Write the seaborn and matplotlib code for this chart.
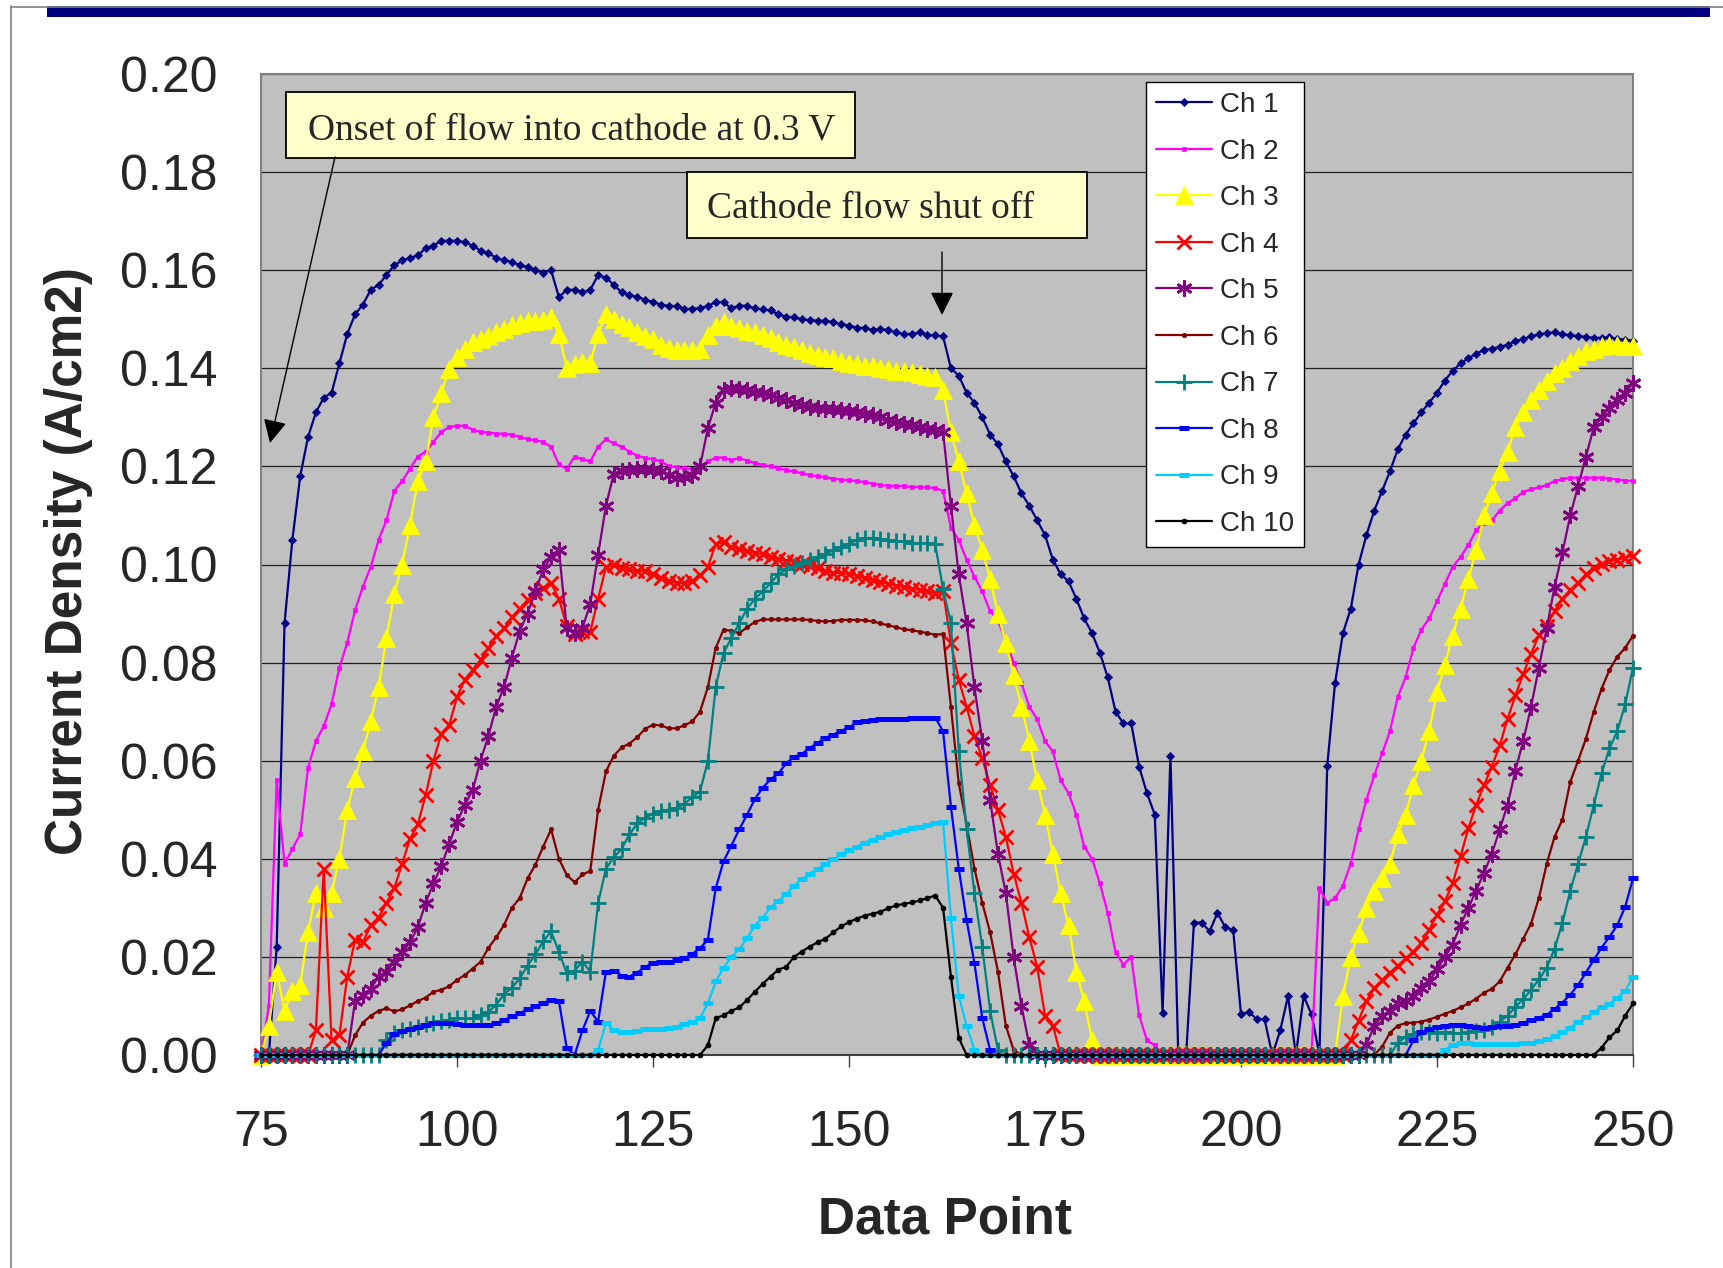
import numpy as np
import pandas as pd
import matplotlib
matplotlib.use("Agg")
import matplotlib.pyplot as plt
import seaborn as sns
from matplotlib.patches import Rectangle
from matplotlib.lines import Line2D

# ---------------- data (current density in mA/cm2, one value per data point) ----------
DATA_POINTS = list(range(75, 251))

CH1 = [0, 0, 22, 88, 105, 118, 126, 131, 134, 135,
       141, 147, 151, 153, 156, 157, 159, 161, 162, 162.5,
       163, 164.5, 165, 166, 166, 166, 165.7, 165, 164, 163.5,
       162.5, 162, 161.7, 161, 160.7, 160, 159.5, 160, 154.5, 156,
       156, 155.5, 156, 159, 158.5, 157, 155.5, 155, 154.5, 154,
       153.5, 153, 152.7, 152.7, 152.1, 152.1, 152.3, 152.7, 153.5, 153.5,
       152.2, 152.8, 152.7, 152.2, 152, 151.8, 151, 150.5, 150.4, 150,
       149.8, 149.7, 149.7, 149.4, 149, 148.7, 148.3, 148.2, 147.8, 148,
       147.8, 147.3, 147, 147, 147.3, 146.8, 146.7, 146.5, 140, 138.5,
       135, 133, 130, 126.5, 124.5, 121, 118, 114.5, 112, 109,
       106, 101, 98, 96.6, 93, 89, 86, 82, 77, 70,
       67.6, 67.6, 58.8, 53.4, 49, 8.5, 61, 0, 0, 27,
       27, 25.2, 29, 26, 25.5, 8.3, 8.8, 7.3, 7.3, 0,
       5, 12, 0, 12, 8.3, 0, 59, 75.9, 86, 91,
       100, 106, 111, 115, 119, 123.5, 126.5, 128.8, 131, 133,
       135, 137.5, 139.5, 141, 142, 143, 143.7, 144, 144.4, 144.8,
       145.5, 146, 146.5, 146.9, 147.2, 147.3, 147, 146.7, 146.6, 146.4,
       146.2, 146.2, 146.3, 146, 145.8, 145.6]

CH2 = [0, 10, 56, 39, 42, 45, 58.5, 64, 67, 71.5,
       79, 84, 90.7, 95.5, 99.5, 105, 109, 115, 117, 119.5,
       122, 123, 125, 127, 128, 128.3, 128.3, 127.5, 127, 126.9,
       126.7, 126.6, 126.5, 126, 125.6, 125.3, 125, 124, 120.4, 119.5,
       122, 121.5, 121, 124, 125.5, 124.7, 124, 123, 122.2, 121.7,
       121.5, 121, 120.1, 119.8, 119.6, 119.4, 120, 121, 121.8, 121.8,
       121.3, 121.7, 121.2, 120.7, 120.3, 120, 119.6, 119.2, 119, 118.6,
       118.2, 118, 117.8, 117.5, 117.3, 117.2, 117, 116.8, 116.5, 116.2,
       116.1, 116, 116, 115.8, 115.8, 115.7, 115.6, 115, 107.5, 105,
       101, 97.5, 94.5, 90.5, 88.5, 84.5, 80, 75.8, 71, 68.5,
       64, 61.9, 56, 53.4, 49, 42.5, 40, 35, 29, 21,
       18.4, 20, 8.2, 3, 2, 0, 0, 0, 0, 0,
       0, 0, 0, 0, 0, 0, 0, 0, 0, 0,
       0, 0, 0, 0, 0, 34, 31, 32, 34.5, 39,
       46, 52, 57, 61.5, 66, 73, 77, 83, 86.7, 89,
       92.5, 96, 99.5, 101.5, 104, 107, 108.5, 109, 111, 112.5,
       113.5, 114.8, 115.3, 115.7, 116.2, 117, 117.4, 117.7, 117.7, 117.7,
       117.7, 117.7, 117.5, 117.3, 117.1, 117]

CH3 = [0, 6, 17, 9, 13, 14.3, 25, 33, 30, 33,
       40, 50, 56.5, 62, 68, 75, 85, 94, 100, 108,
       117, 121, 130, 135, 139.8, 142.4, 144, 145.3, 146, 146.5,
       147.3, 148, 148.8, 149.2, 149.7, 149.7, 149.8, 150.5, 147, 140,
       140.8, 141.3, 141.1, 147, 151, 150, 149, 148.5, 147.5, 146.5,
       146, 144.8, 144.1, 143.8, 143.8, 143.8, 144, 146.8, 148.6, 149.5,
       148.6, 148.2, 147.7, 147.3, 146.8, 146.2, 145.4, 144.8, 144.3, 143.7,
       143.1, 142.7, 142.3, 142, 141.4, 141, 140.9, 140.5, 140.4, 140.1,
       139.8, 139.5, 139.4, 139.2, 138.9, 138.5, 138.2, 135.5, 127, 121,
       114.5, 108, 103, 97, 90, 84, 77.5, 71, 64, 56,
       49, 41, 33, 26.5, 17, 11, 3, 0, 0, 0,
       0, 0, 0, 0, 0, 0, 0, 0, 0, 0,
       0, 0, 0, 0, 0, 0, 0, 0, 0, 0,
       0, 0, 0, 0, 0, 0, 0, 0, 12, 20,
       24.8, 30, 33.5, 36, 39, 45, 49, 55, 60, 66,
       74, 79.5, 85.5, 91, 97, 103, 110, 114.5, 119, 123,
       128, 131, 133.5, 135.5, 137.5, 139, 140, 141.5, 142.5, 143.5,
       144, 144.5, 144.7, 144.7, 144.6, 144.5]

CH4 = [0, 0, 0, 0, 0, 0, 0, 5, 38, 3,
       4, 16, 23.5, 23, 26.5, 28, 31, 34, 39, 44,
       47, 53, 60, 65.5, 67.2, 73, 76.5, 78.5, 80.5, 83,
       85.5, 87, 89.3, 91, 92.8, 94.2, 95.3, 96.2, 93, 87.5,
       85.8, 86.5, 86.3, 93, 99.5, 99.9, 99.3, 99, 98.6, 98.6,
       98, 97.2, 96.6, 96.3, 96.2, 96.6, 97.8, 99.5, 104.2, 104.5,
       103.5, 103.1, 102.7, 102.4, 102.1, 101.6, 101.1, 100.8, 100.5, 100.1,
       99.6, 99.2, 98.6, 98.3, 98.3, 98, 97.7, 97.3, 96.8, 96.4,
       96.1, 95.7, 95.4, 95.1, 94.8, 94.5, 94.2, 94.5, 84, 76.5,
       71, 65, 60.5, 55, 50, 44.5, 37, 31, 24, 18,
       8, 6, 0, 0, 0, 0, 0, 0, 0, 0,
       0, 0, 0, 0, 0, 0, 0, 0, 0, 0,
       0, 0, 0, 0, 0, 0, 0, 0, 0, 0,
       0, 0, 0, 0, 0, 0, 0, 0, 0, 3,
       7, 11, 13.7, 15.3, 16.8, 18.2, 19.7, 21, 22.8, 25.5,
       28.6, 31.3, 35, 40.5, 46.2, 51, 55, 58.8, 63.1, 68.5,
       73.3, 77.7, 81.8, 85.6, 87.5, 90.5, 93, 94.8, 96.3, 98,
       99.2, 100.2, 100.7, 101, 101.4, 101.8]

CH5 = [0, 0, 0, 0, 0, 0, 0, 0, 0, 0,
       0, 0, 11, 12.2, 13.5, 16, 17, 19, 21, 23,
       26, 31, 35, 38.5, 43, 47.5, 51, 54, 60, 65,
       71, 75, 81, 86.5, 90, 94.5, 99, 101.5, 103, 87,
       86, 87, 92, 102, 112, 118.5, 119, 119.3, 119.5, 119.5,
       119.3, 119, 118.2, 117.6, 117.8, 118.3, 120, 127.8, 133, 135.5,
       136, 135.8, 135.5, 135.2, 135, 134.5, 134, 133.5, 133, 132.6,
       132.2, 132, 131.8, 131.7, 131.5, 131.3, 131, 130.7, 130.4, 130,
       129.5, 129, 128.7, 128.4, 128, 127.7, 127.4, 127, 112, 98,
       88, 75, 64, 52, 41, 33, 20, 10, 2, 0,
       0, 0, 0, 0, 0, 0, 0, 0, 0, 0,
       0, 0, 0, 0, 0, 0, 0, 0, 0, 0,
       0, 0, 0, 0, 0, 0, 0, 0, 0, 0,
       0, 0, 0, 0, 0, 0, 0, 0, 0, 0,
       0, 2, 6, 8, 9, 10.5, 11, 12, 13.7, 15,
       17.5, 20, 22.5, 26.5, 30, 33.5, 37.2, 41, 46, 51,
       58, 64, 71, 79, 87, 95.5, 102.5, 110, 116, 122,
       128, 130, 132, 133.6, 135, 137]

CH6 = [0, 0, 0, 0, 0, 0, 0, 0, 0, 0,
       0, 0, 4, 6.6, 8, 9, 9.5, 8.9, 9.3, 10.1,
       11, 11.7, 12.9, 13.3, 14, 15.3, 16.3, 17.6, 19, 21.8,
       24, 26.5, 30, 32, 36, 38.8, 42.5, 46, 40, 36.7,
       35.2, 36.8, 37.5, 50, 57.8, 61, 62.7, 63.5, 64.8, 66.5,
       67.3, 67.2, 66.6, 66.6, 67.2, 68, 70, 75, 83, 86.7,
       86.5, 86, 87.2, 88.3, 88.8, 88.8, 88.8, 88.8, 88.8, 88.8,
       88.7, 88.5, 88.4, 88.5, 88.7, 88.7, 88.7, 88.6, 88.4, 88,
       87.6, 87.2, 86.8, 86.6, 86.3, 86, 85.7, 85.8, 71, 55.4,
       47, 38, 31, 25, 17, 6, 1, 0, 0, 0,
       0, 0, 0, 0, 0, 0, 0, 0, 0, 0,
       0, 0, 0, 0, 0, 0, 0, 0, 0, 0,
       0, 0, 0, 0, 0, 0, 0, 0, 0, 0,
       0, 0, 0, 0, 0, 0, 0, 0, 0, 0,
       0, 0, 0, 1.7, 4.5, 6, 6.5, 6.6, 6.8, 7.2,
       7.8, 8.4, 9, 9.7, 10.5, 11.5, 12.7, 13.5, 15, 17.8,
       20.5, 23.7, 26.8, 32, 39, 44.5, 48, 55.7, 60, 64.5,
       70, 74.7, 78.5, 81.2, 83, 85.5]

CH7 = [0, 0, 0, 0, 0, 0, 0, 0, 0, 0,
       0, 0, 0, 0, 0, 0, 3, 4.5, 5, 5.2,
       5.7, 6.3, 6.6, 6.9, 7.2, 7.5, 7.5, 7.5, 8.1, 8.8,
       10.2, 12.4, 13.7, 15.6, 18.2, 20.5, 23.2, 25.2, 21, 16.7,
       17.2, 19, 17, 31, 38, 40.3, 42, 45, 47.2, 48.4,
       49.2, 49.7, 50, 50.4, 51.2, 52.5, 53.7, 60, 75, 82,
       85, 88, 91, 93, 94.5, 96.2, 98, 99, 99.6, 100.4,
       101, 101.5, 102.2, 102.9, 103.5, 104.2, 105, 105.4, 105.4, 105.2,
       104.9, 104.7, 104.7, 104.4, 104.3, 104.3, 104.1, 95, 88.1, 62,
       46, 33, 22, 9, 1, 0, 0, 0, 0, 0,
       0, 0, 0, 0, 0, 0, 0, 0, 0, 0,
       0, 0, 0, 0, 0, 0, 0, 0, 0, 0,
       0, 0, 0, 0, 0, 0, 0, 0, 0, 0,
       0, 0, 0, 0, 0, 0, 0, 0, 0, 0,
       0, 0, 0, 0, 0, 2.5, 3.7, 4.3, 4.6, 4.6,
       4.5, 4.7, 4.5, 4.4, 4.6, 4.9, 5.1, 5.8, 6.8, 8,
       9.8, 11.4, 13.3, 15.4, 17.8, 21.7, 27, 33.5, 39, 44.5,
       51, 57.5, 62.5, 66, 71.5, 79]

CH8 = [0, 0, 0, 0, 0, 0, 0, 0, 0, 0,
       0, 0, 0, 0, 0, 0, 2.5, 4.2, 4.8, 5.3,
       5.8, 6.2, 6.5, 6.6, 6.6, 6.4, 6.2, 6.1, 6.1, 6.2,
       6.5, 7.1, 7.9, 8.5, 9.3, 9.9, 10.6, 11.3, 11, 1.4,
       0, 5, 9, 6.8, 17, 17.2, 16.2, 16, 16.8, 18,
       18.7, 19, 19, 19.3, 19.7, 20.6, 21.8, 23.5, 34, 39.5,
       42.7, 46, 49, 52.2, 54.5, 56.2, 57.4, 59.5, 60.7, 61.4,
       62.6, 63.6, 64.7, 65.3, 66.1, 66.8, 67.8, 68, 68.3, 68.4,
       68.5, 68.6, 68.6, 68.7, 68.7, 68.8, 68.8, 66, 50.6, 38,
       27.5, 18.7, 7.5, 1, 0, 0, 0, 0, 0, 0,
       0, 0, 0, 0, 0, 0, 0, 0, 0, 0,
       0, 0, 0, 0, 0, 0, 0, 0, 0, 0,
       0, 0, 0, 0, 0, 0, 0, 0, 0, 0,
       0, 0, 0, 0, 0, 0, 0, 0, 0, 0,
       0, 0, 0, 0, 0, 0, 0, 3, 4.6, 5.3,
       5.8, 6, 6.1, 6.1, 6, 5.8, 5.6, 5.7, 5.9, 6,
       6.2, 6.6, 7.1, 7.6, 8.2, 9.4, 10.7, 12.3, 14.3, 16.8,
       19.4, 21.9, 24.1, 26.5, 30.2, 36]

CH9 = [0, 0, 0, 0, 0, 0, 0, 0, 0, 0,
       0, 0, 0, 0, 0, 0, 0, 0, 0, 0,
       0, 0, 0, 0, 0, 0, 0, 0, 0, 0,
       0, 0, 0, 0, 0, 0, 0, 0, 0, 0,
       0, 0, 0, 1, 6.5, 5, 4.7, 4.6, 4.9, 5.2,
       5.3, 5.4, 5.6, 5.8, 6.4, 6.7, 7.5, 10.5, 15, 17.7,
       20, 21.6, 23.8, 26.4, 28, 30.1, 31.4, 32.8, 34.5, 35.9,
       37, 37.9, 38.9, 39.9, 40.9, 41.7, 42.5, 43.3, 43.9, 44.5,
       45.1, 45.5, 45.8, 46.2, 46.5, 46.8, 47.2, 47.5, 28, 12,
       6, 1, 0, 0, 0, 0, 0, 0, 0, 0,
       0, 0, 0, 0, 0, 0, 0, 0, 0, 0,
       0, 0, 0, 0, 0, 0, 0, 0, 0, 0,
       0, 0, 0, 0, 0, 0, 0, 0, 0, 0,
       0, 0, 0, 0, 0, 0, 0, 0, 0, 0,
       0, 0, 0, 0, 0, 0, 0, 0, 0, 0,
       0, 1, 2, 2.4, 2.4, 2.3, 2.2, 2.2, 2.2, 2.2,
       2.3, 2.4, 2.5, 2.8, 3.2, 3.9, 4.6, 5.6, 6.7, 7.7,
       8.7, 9.7, 10.4, 11.6, 13, 16]

CH10 = [0, 0, 0, 0, 0, 0, 0, 0, 0, 0,
        0, 0, 0, 0, 0, 0, 0, 0, 0, 0,
        0, 0, 0, 0, 0, 0, 0, 0, 0, 0,
        0, 0, 0, 0, 0, 0, 0, 0, 0, 0,
        0, 0, 0, 0, 0, 0, 0, 0, 0, 0,
        0, 0, 0, 0, 0, 0, 0, 2, 7.5, 8.1,
        9, 9.7, 11.2, 12.9, 14.5, 16, 17.4, 18, 20, 21.1,
        22.1, 23, 23.7, 25, 26.2, 27.1, 27.8, 28.4, 28.8, 29.2,
        29.9, 30.5, 30.8, 31.1, 31.5, 32, 32.5, 30, 16, 3.5,
        0, 0, 0, 0, 0, 0, 0, 0, 0, 0,
        0, 0, 0, 0, 0, 0, 0, 0, 0, 0,
        0, 0, 0, 0, 0, 0, 0, 0, 0, 0,
        0, 0, 0, 0, 0, 0, 0, 0, 0, 0,
        0, 0, 0, 0, 0, 0, 0, 0, 0, 0,
        0, 0, 0, 0, 0, 0, 0, 0, 0, 0,
        0, 0, 0, 0, 0, 0, 0, 0, 0, 0,
        0, 0, 0, 0, 0, 0, 0, 0, 0, 0,
        0, 1.5, 3.6, 5, 8, 10.5]

CHANNELS = ["Ch 1", "Ch 2", "Ch 3", "Ch 4", "Ch 5",
            "Ch 6", "Ch 7", "Ch 8", "Ch 9", "Ch 10"]
SERIES = [CH1, CH2, CH3, CH4, CH5, CH6, CH7, CH8, CH9, CH10]
X_TICKS = [75, 100, 125, 150, 175, 200, 225, 250]
Y_TICKS = [0.00, 0.02, 0.04, 0.06, 0.08, 0.10, 0.12, 0.14, 0.16, 0.18, 0.20]

for name, s in zip(CHANNELS, SERIES):
    if len(s) != len(DATA_POINTS):
        raise ValueError(f"{name}: {len(s)} values")

# ---------------- layout ----------------
W, H = 1724, 1268
L, R, T, B = 261, 1633, 74, 1055

sns.set_style("white")
plt.rcParams['font.family'] = ['Liberation Sans', 'DejaVu Sans']

fig = plt.figure(figsize=(W / 100, H / 100), dpi=100)
fig.patch.set_facecolor('white')

# page decorations (slide frame and top bar)
deco = fig.add_axes([0, 0, 1, 1], zorder=-5)
deco.set_xlim(0, W)
deco.set_ylim(H, 0)
deco.axis('off')
deco.add_line(Line2D([11, 11], [6, H], color='#808080', lw=1.2))
deco.add_line(Line2D([11, W], [6.5, 6.5], color='#808080', lw=1.2))
deco.add_patch(Rectangle((47, 5.5), 1663, 11.5, facecolor='#000080', edgecolor='none'))

ax = fig.add_axes([L / W, 1 - B / H, (R - L) / W, (B - T) / H])
ax.set_facecolor('#C0C0C0')

STYLES = [
    dict(color='#000080', marker='D', ms=3.8, mew=0.6),
    dict(color='#FF00FF', marker='s', ms=3.4, mew=0.5),
    dict(color='#FFFF00', marker='^', ms=12.5, mew=0.5),
    dict(color='#FF0000', marker='x', ms=10.5, mew=2.0),
    dict(color='#800080', marker=(6, 2, 0), ms=11.5, mew=2.0),
    dict(color='#800000', marker='o', ms=3.2, mew=0.5),
    dict(color='#008080', marker='+', ms=11, mew=2.0),
    dict(color='#0000FF', marker='_', ms=7.5, mew=3.6),
    dict(color='#00CCFF', marker='_', ms=7.5, mew=3.6),
    dict(color='#000000', marker='o', ms=3.6, mew=0.5),
]

for i, (name, vals, st) in enumerate(zip(CHANNELS, SERIES, STYLES)):
    df = pd.DataFrame({"Data Point": DATA_POINTS,
                       "Current Density": np.array(vals, dtype=float) / 1000.0})
    sns.lineplot(data=df, x="Data Point", y="Current Density", ax=ax,
                 color=st['color'], marker=st['marker'], markersize=st['ms'],
                 markeredgewidth=st['mew'], markeredgecolor=st['color'],
                 markerfacecolor=st['color'], linewidth=1.6,
                 errorbar=None, legend=False, clip_on=False, zorder=3 + i * 0.01)

ax.set_xlim(75, 250)
ax.set_ylim(0, 0.2)
ax.set_xticks(X_TICKS)
ax.set_xticklabels([str(t) for t in X_TICKS])
ax.set_yticks(Y_TICKS)
ax.set_yticklabels([f"{t:.2f}" for t in Y_TICKS])
ax.set_xlabel("")
ax.set_ylabel("")
ax.tick_params(axis='x', which='both', bottom=True, length=8.6, width=1.0,
               color='#404040', direction='out', pad=31, labelsize=36)
ax.tick_params(axis='y', which='both', left=False, length=0, pad=31.5, labelsize=36)
ax.grid(axis='y', color='#202020', linewidth=0.9)
ax.grid(axis='x', visible=False)
ax.set_axisbelow(True)
for sp in ax.spines.values():
    sp.set_visible(True)
    sp.set_color('#808080')
    sp.set_linewidth(1.5)
ax.spines['bottom'].set_color('#404040')

# axis titles
fig.text(945 / W, 1 - 1233 / H, "Data Point", ha='center', va='baseline',
         fontsize=37, fontweight='bold')
fig.text(69 / W, 1 - 561 / H, "Current Density (A/cm2)", ha='center', va='center',
         rotation=90, fontsize=37, fontweight='bold')


def af(px, py):
    return ((px - L) / (R - L), (B - py) / (B - T))


# annotation boxes
for (x0, y0, x1, y1), (tx, ty), txt in [
        ((286, 92, 855, 158), (308, 139), "Onset of flow into cathode at 0.3 V"),
        ((687, 172, 1087, 238), (707, 218), "Cathode flow shut off")]:
    a0 = af(x0, y1)
    a1 = af(x1, y0)
    ax.add_patch(Rectangle(a0, a1[0] - a0[0], a1[1] - a0[1], transform=ax.transAxes,
                           facecolor='#FFFFCC', edgecolor='black', lw=1.3,
                           zorder=6, clip_on=False))
    ax.text(*af(tx, ty), txt, transform=ax.transAxes, ha='left', va='baseline',
            fontsize=27, family=['Liberation Serif', 'DejaVu Serif'], zorder=7)

for start, tip in [((335, 157), (270, 443)), ((942, 252), (942, 315))]:
    ax.annotate("", xy=af(*tip), xytext=af(*start), xycoords='axes fraction',
                textcoords='axes fraction',
                arrowprops=dict(arrowstyle='-|>,head_length=0.72,head_width=0.36',
                                color='black', lw=1.0, mutation_scale=20,
                                shrinkA=0, shrinkB=0), zorder=7)

# legend
handles = [Line2D([], [], color=st['color'], marker=st['marker'], ms=st['ms'],
                  mew=st['mew'], mec=st['color'], mfc=st['color'], lw=1.6)
           for st in STYLES]
leg = fig.legend(handles, CHANNELS, loc='upper left',
                 bbox_to_anchor=(1146 / W, 1 - 82 / H), bbox_transform=fig.transFigure,
                 frameon=True, fancybox=False, framealpha=1, edgecolor='black',
                 fontsize=20, handlelength=2.0, handletextpad=0.3,
                 labelspacing=0.74, borderpad=0.36, borderaxespad=0, numpoints=1)
leg.get_frame().set_linewidth(1.0)
leg.set_zorder(10)

fig.savefig("out.png", dpi=100)
